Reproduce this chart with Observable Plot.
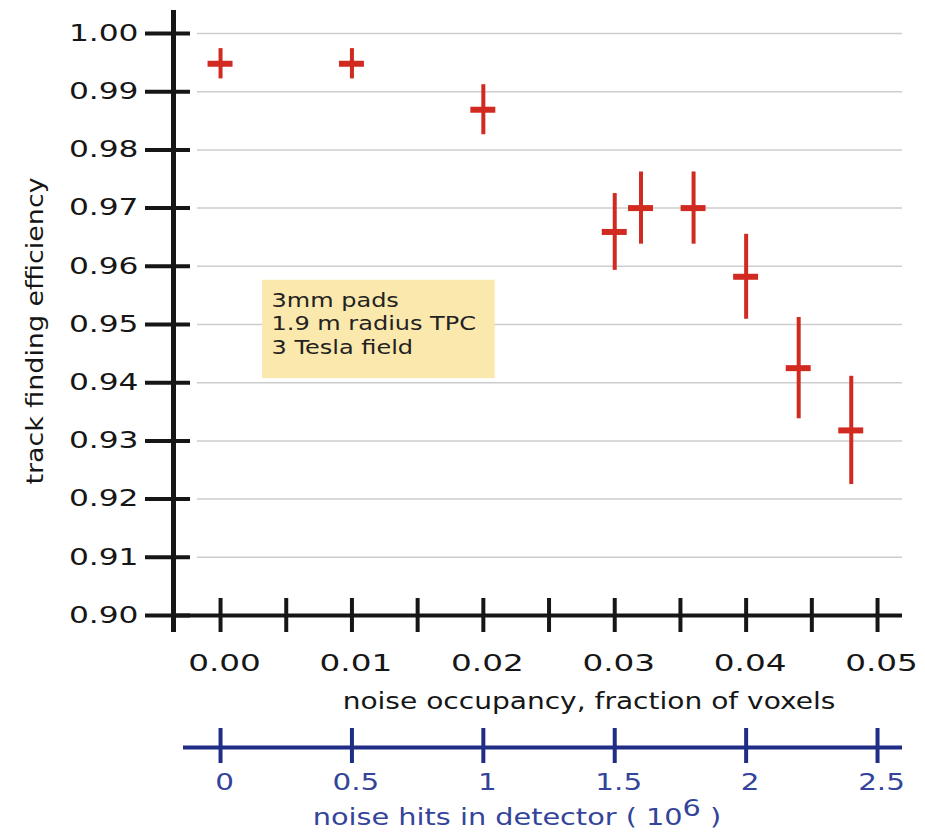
<!DOCTYPE html>
<html>
<head>
<meta charset="utf-8">
<script src="https://cdn.jsdelivr.net/npm/d3@7"></script>
<script src="https://cdn.jsdelivr.net/npm/@observablehq/plot@0.6"></script>
<style>
  body { margin: 0; background: #fff; }
</style>
</head>
<body>
<div id="chart"></div>
<script>
// ---- data ----
const occupancy  = [0.000, 0.010, 0.020, 0.030, 0.032, 0.036, 0.040, 0.044, 0.048];
const efficiency = [0.9948, 0.9948, 0.9869, 0.9659, 0.9700, 0.9700, 0.9582, 0.9425, 0.9318];
const effErr     = [0.0026, 0.0026, 0.0043, 0.0066, 0.0062, 0.0062, 0.0073, 0.0087, 0.0093];
const occErr     = [0.00095, 0.00095, 0.00095, 0.00095, 0.00095, 0.00095, 0.00095, 0.00095, 0.00095];

// ---- ticks / labels ----
const yTicks      = [0.90, 0.91, 0.92, 0.93, 0.94, 0.95, 0.96, 0.97, 0.98, 0.99, 1.00];
const xTicks      = [0, 0.005, 0.01, 0.015, 0.02, 0.025, 0.03, 0.035, 0.04, 0.045, 0.05];
const xLabelTicks = [0, 0.01, 0.02, 0.03, 0.04, 0.05];
const hitsTicks   = [0, 0.5, 1, 1.5, 2, 2.5];
const hitsPerOccupancy = 50;   // 0.5 x 10^6 hits  <->  0.01 occupancy
const noteLines = ["3mm pads", "1.9 m radius TPC", "3 Tesla field"];
const xTitle = "noise occupancy, fraction of voxels";
const yTitle = "track finding efficiency";
const hitsTitle = ["noise hits in detector ( 10", "6", " )"];

// ---- configuration ----
const xDomain = [-0.00358, 0.0519];
const yDomain = [0.90, 1.00395];
const noteBox = {x1: 0.0032, x2: 0.0209, y1: 0.9407, y2: 0.9576};
const red = "#d12a20", ink = "#161616", blue = "#1f2d86", blueText = "#34449a";

const rows = occupancy.map((x, i) => ({x, y: efficiency[i], ey: effErr[i], ex: occErr[i]}));

const chart = Plot.plot({
  width: 925,
  height: 832,
  marginLeft: 173,
  marginRight: 23,
  marginTop: 10,
  marginBottom: 217,
  style: {fontFamily: "'DejaVu Sans', Verdana, sans-serif", background: "#fff", color: ink},
  x: {domain: xDomain, axis: null},
  y: {domain: yDomain, axis: null},
  marks: [
    // grid
    Plot.ruleY(yTicks.slice(1), {stroke: "#cdcdcd", strokeWidth: 1.5, insetLeft: 24}),
    // annotation box
    Plot.rect([noteBox], {x1: "x1", x2: "x2", y1: "y1", y2: "y2", fill: "#fbe8ac"}),
    Plot.text([noteBox], {x: "x1", y: "y2", text: () => noteLines.join("\n"), textAnchor: "start",
      lineAnchor: "top", dx: 9, dy: 10, fontSize: 20, lineHeight: 1.17, fill: "#222", ariaDescription: "note text"}),
    // main axes lines
    Plot.ruleX([xDomain[0]], {stroke: ink, strokeWidth: 5, insetBottom: -17}),
    Plot.ruleY([yDomain[0]], {stroke: ink, strokeWidth: 4}),
    // ticks crossing the axes
    Plot.axisY({ticks: yTicks, anchor: "left", tickSize: 45, dx: 17, fill: "none", stroke: ink, strokeWidth: 4, label: null}),
    Plot.axisX({ticks: xTicks, anchor: "bottom", tickSize: 34, dy: -17, fill: "none", stroke: ink, strokeWidth: 4, label: null}),
    // tick labels
    Plot.text(yTicks, {y: d => d, frameAnchor: "left", dx: -35, textAnchor: "end", lineAnchor: "middle",
      text: d => d.toFixed(2), fontSize: 23, fill: ink, ariaDescription: "y tick labels"}),
    Plot.text(xLabelTicks, {x: d => d, frameAnchor: "bottom", dy: 48, dx: 4, textAnchor: "middle", lineAnchor: "middle",
      text: d => d.toFixed(2), fontSize: 23, fill: ink, ariaDescription: "x tick labels"}),
    // titles
    Plot.text([xTitle], {frameAnchor: "bottom", dx: 51, dy: 86, textAnchor: "middle", lineAnchor: "middle",
      text: d => d, fontSize: 23, fill: ink, ariaDescription: "x title"}),
    Plot.text([yTitle], {frameAnchor: "left", dx: -138, dy: 18, rotate: -90, textAnchor: "middle", lineAnchor: "middle",
      text: d => d, fontFamily: "'DejaVu Sans Condensed', 'DejaVu Sans', sans-serif", fontSize: 23, fill: ink,
      ariaDescription: "y title"}),
    // secondary (hits) axis
    Plot.ruleY([yDomain[0]], {dy: 132, insetLeft: 10, stroke: blue, strokeWidth: 4}),
    Plot.axisX({ticks: hitsTicks.map(h => h / hitsPerOccupancy), anchor: "bottom", tickSize: 35, dy: 113,
      fill: "none", stroke: blue, strokeWidth: 4, label: null}),
    Plot.text(hitsTicks, {x: d => d / hitsPerOccupancy, frameAnchor: "bottom", dy: 167, dx: 4, textAnchor: "middle",
      lineAnchor: "middle", text: d => String(d), fontSize: 23, fill: blueText, ariaDescription: "hits tick labels"}),
    Plot.text([hitsTitle.join("")], {frameAnchor: "bottom", dx: -21, dy: 202, textAnchor: "middle", lineAnchor: "middle",
      text: d => d, fontSize: 23, fill: blueText, ariaDescription: "hits title"}),
    // data: error crosses
    Plot.ruleX(rows, {x: "x", y1: d => d.y - d.ey, y2: d => d.y + d.ey, stroke: red, strokeWidth: 4}),
    Plot.ruleY(rows, {y: "y", x1: d => d.x - d.ex, x2: d => d.x + d.ex, stroke: red, strokeWidth: 6})
  ]
});

// superscript exponent in the hits title
const ht = chart.querySelector('g[aria-description="hits title"] text');
if (ht) {
  ht.textContent = "";
  const ns = "http://www.w3.org/2000/svg";
  const a = document.createElementNS(ns, "tspan"); a.textContent = hitsTitle[0]; ht.appendChild(a);
  const b = document.createElementNS(ns, "tspan"); b.textContent = hitsTitle[1];
  b.setAttribute("dy", "-9"); ht.appendChild(b);
  const c = document.createElementNS(ns, "tspan"); c.textContent = hitsTitle[2];
  c.setAttribute("dy", "9"); ht.appendChild(c);
}

// the reference's lettering is drawn wide: stretch glyphs along the reading direction about their anchor
function stretch(desc, s) {
  chart.querySelectorAll(`g[aria-description="${desc}"] text`).forEach(t => {
    let x = parseFloat(t.getAttribute("x"));
    if (!isFinite(x)) x = 0;
    const tr = t.getAttribute("transform") || "";
    t.setAttribute("transform", `${tr} translate(${x},0) scale(${s},1) translate(${-x},0)`.trim());
  });
}
stretch("y tick labels", 1.36);
stretch("x tick labels", 1.42);
stretch("hits tick labels", 1.28);
stretch("x title", 1.22);
stretch("hits title", 1.25);
stretch("note text", 1.2);
stretch("y title", 1.3);

document.getElementById("chart").appendChild(chart);
</script>
</body>
</html>
